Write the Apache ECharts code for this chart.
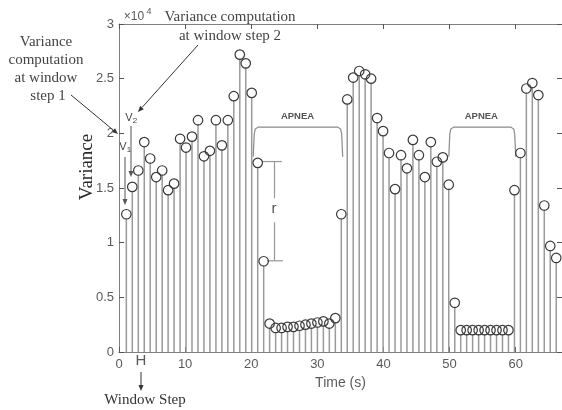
<!DOCTYPE html>
<html>
<head>
<meta charset="utf-8">
<script src="https://cdn.jsdelivr.net/npm/echarts@6/dist/echarts.min.js"></script>
<style>
html,body{margin:0;padding:0;background:#fff}
#container{width:562px;height:410px}
</style>
</head>
<body>
<div id="container"></div>
<script>
// time of each window step (s)
var timeS = [1.11, 2.01, 2.92, 3.82, 4.72, 5.63, 6.53, 7.43, 8.33, 9.24,
    10.14, 11.04, 11.95, 12.85, 13.75, 14.66, 15.56, 16.46, 17.36, 18.27,
    19.17, 20.07, 20.98, 21.88, 22.78, 23.69, 24.59, 25.49, 26.39, 27.30,
    28.20, 29.10, 30.01, 30.91, 31.81, 32.72, 33.62, 34.52, 35.42, 36.33,
    37.23, 38.13, 39.04, 39.94, 40.84, 41.75, 42.65, 43.55, 44.45, 45.36,
    46.26, 47.16, 48.07, 48.97, 49.87, 50.78, 51.68, 52.58, 53.48, 54.39,
    55.29, 56.19, 57.10, 58.00, 58.90, 59.81, 60.71, 61.61, 62.51, 63.42,
    64.32, 65.22, 66.13];
// variance (x10^4)
var variance = [1.26, 1.51, 1.66, 1.92, 1.77, 1.60, 1.66, 1.48, 1.54, 1.95,
    1.87, 1.97, 2.12, 1.79, 1.84, 2.12, 1.89, 2.12, 2.34, 2.72,
    2.64, 2.37, 1.73, 0.83, 0.26, 0.22, 0.22, 0.23, 0.23, 0.24,
    0.25, 0.26, 0.27, 0.28, 0.26, 0.31, 1.26, 2.31, 2.51, 2.57,
    2.54, 2.50, 2.14, 2.02, 1.82, 1.49, 1.80, 1.68, 1.94, 1.80,
    1.60, 1.92, 1.74, 1.78, 1.53, 0.45, 0.20, 0.20, 0.20, 0.20,
    0.20, 0.20, 0.20, 0.20, 0.20, 1.48, 1.82, 2.41, 2.46, 2.35,
    1.34, 0.97, 0.86];
var xTickLabels = ['0', '10', '20', '30', '40', '50', '60'];
var yTickLabels = ['0', '0.5', '1', '1.5', '2', '2.5', '3'];

var stems = [];
var points = [];
for (var i = 0; i < timeS.length; i++) {
    stems.push([timeS[i], variance[i]]);
    points.push([timeS[i], variance[i]]);
}

var sans = "'Liberation Sans', Arial, sans-serif";
var serif = "'Liberation Serif', 'Times New Roman', serif";
var axisGray = '#808080';
var labelGray = '#5a5a5a';
var tickStyle = { show: true, inside: true, length: 5, lineStyle: { color: '#555', width: 1 } };

var dom = document.getElementById("container");
var myChart = echarts.init(dom);
var option = {
    animation: false,
    grid: { left: 119, right: -3, top: 24, bottom: 58, containLabel: false },
    xAxis: [{
        type: 'value', min: 0, max: 67, interval: 10,
        axisLine: { show: true, onZero: false, lineStyle: { color: axisGray } },
        axisTick: tickStyle,
        splitLine: { show: false },
        axisLabel: {
            inside: false, color: labelGray, fontFamily: sans, fontSize: 13, margin: 6, showMaxLabel: false,
            formatter: function (v) { return xTickLabels.indexOf(String(v)) >= 0 ? String(v) : ''; }
        },
        name: 'Time (s)', nameLocation: 'middle', nameGap: 22,
        nameTextStyle: { color: labelGray, fontFamily: sans, fontSize: 14 }
    }, {
        type: 'value', position: 'top', min: 0, max: 67, interval: 10,
        axisLine: { show: true, onZero: false, lineStyle: { color: axisGray } },
        axisTick: tickStyle,
        axisLabel: { show: false }, splitLine: { show: false }
    }],
    yAxis: [{
        type: 'value', min: 0, max: 3, interval: 0.5,
        axisLine: { show: true, onZero: false, lineStyle: { color: axisGray } },
        axisTick: tickStyle,
        splitLine: { show: false },
        axisLabel: {
            inside: false, color: labelGray, fontFamily: sans, fontSize: 13, margin: 5,
            formatter: function (v) { return yTickLabels[Math.round(v / 0.5)]; }
        }
    }, {
        type: 'value', position: 'right', min: 0, max: 3, interval: 0.5,
        axisLine: { show: true, onZero: false, lineStyle: { color: axisGray } },
        axisTick: tickStyle,
        axisLabel: { show: false }, splitLine: { show: false }
    }],
    series: [{
        type: 'custom',
        data: stems,
        renderItem: function (params, api) {
            var p0 = api.coord([api.value(0), 0]);
            var p1 = api.coord([api.value(0), api.value(1)]);
            return {
                type: 'line',
                shape: { x1: p0[0], y1: p0[1], x2: p1[0], y2: p1[1] + 4 },
                style: { stroke: '#9a9a9a', lineWidth: 1.5 }
            };
        },
        z: 1
    }, {
        type: 'scatter',
        data: points,
        symbol: 'circle',
        symbolSize: 9.5,
        itemStyle: { color: 'rgba(255,255,255,0)', borderColor: '#3a3a3a', borderWidth: 1.2, opacity: 1 },
        z: 2
    }]
};
myChart.setOption(option, true);

function arrow(x1, y1, x2, y2, color) {
    var a = Math.atan2(y2 - y1, x2 - x1);
    var L = 6, W = 2.5;
    var bx = x2 - L * Math.cos(a), by = y2 - L * Math.sin(a);
    var px = -Math.sin(a) * W, py = Math.cos(a) * W;
    return [{
        type: 'line', shape: { x1: x1, y1: y1, x2: bx, y2: by },
        style: { stroke: color, lineWidth: 1 }
    }, {
        type: 'polygon', shape: { points: [[x2, y2], [bx + px, by + py], [bx - px, by - py]] },
        style: { fill: color }
    }];
}
function text(str, x, y, font, color, extra) {
    var t = {
        type: 'text', x: x, y: y,
        style: { text: str, font: font, fill: color, align: 'center', verticalAlign: 'middle' }
    };
    if (extra) { for (var k in extra) t[k] = extra[k]; }
    return t;
}
function p(t, v) {
    return myChart.convertToPixel({ seriesIndex: 1 }, [t, v]);
}
function bracket(t1, t2, vTop, vBot) {
    var a = p(t1, vBot), b = p(t1, vTop), c = p(t2, vTop), d = p(t2, vBot);
    return {
        type: 'polyline',
        shape: { points: [a, [b[0] + 1, b[1] + 7], [b[0] + 2, b[1] + 2], [b[0] + 5, b[1]],
            [c[0] - 5, c[1]], [c[0] - 2, c[1] + 2], [c[0] - 1, c[1] + 7], d] },
        style: { stroke: '#8a8a8a', lineWidth: 1.2, fill: null }
    };
}

var g = [];
// exponent
g.push(text('\u00d710', 134, 17, '12px ' + sans, labelGray));
g.push(text('4', 149, 12, '9px ' + sans, labelGray));
// y axis name
g.push(text('Variance', 87, 167, '19px ' + serif, '#2a2a2a', { rotation: Math.PI / 2 }));
// top annotation
g.push(text('Variance computation', 230, 17, '15px ' + serif, '#444'));
g.push(text('at window step 2', 230, 36, '15px ' + serif, '#444'));
g = g.concat(arrow(198, 45, 138, 112, '#333'));
// left annotation
g.push(text('Variance', 46, 42, '15px ' + serif, '#444'));
g.push(text('computation', 46, 60, '15px ' + serif, '#444'));
g.push(text('at window', 46, 78, '15px ' + serif, '#444'));
g.push(text('step 1', 48, 96, '15px ' + serif, '#444'));
g = g.concat(arrow(71, 95, 118, 134, '#333'));
// V1 / V2
g.push(text('V', 129, 118, '11px ' + sans, '#444'));
g.push(text('2', 135, 121, '8px ' + sans, '#444'));
g = g.concat(arrow(131, 126, 131, 177, '#555'));
g.push(text('V', 123, 147, '11px ' + sans, '#444'));
g.push(text('1', 129, 150, '8px ' + sans, '#444'));
g = g.concat(arrow(125, 157, 125, 205, '#555'));
// H and window step
g.push(text('H', 141, 361, '15px ' + sans, labelGray));
g = g.concat(arrow(141, 372, 141, 391, '#333'));
g.push(text('Window Step', 145, 400, '15px ' + serif, '#333'));
// APNEA brackets
g.push(bracket(20.3, 33.83, 2.057, 1.785));
g.push(bracket(49.88, 60.0, 2.057, 1.785));
var l1 = p(27.0, 2.154), l2 = p(54.8, 2.154);
g.push(text('APNEA', l1[0], l1[1], '600 9.5px ' + sans, '#555'));
g.push(text('APNEA', l2[0], l2[1], '600 9.5px ' + sans, '#555'));
// r bracket
var rTopA = p(21.6, 1.742), rTopB = p(24.64, 1.742);
var rBotA = p(22.38, 0.834), rBotB = p(24.79, 0.834);
var rx = p(23.52, 1.742)[0];
var rGapTop = p(23.52, 1.406)[1], rGapBot = p(23.52, 1.187)[1];
var rStyle = { stroke: '#999', lineWidth: 1.2 };
g.push({ type: 'line', shape: { x1: rTopA[0], y1: rTopA[1], x2: rTopB[0], y2: rTopB[1] }, style: rStyle });
g.push({ type: 'line', shape: { x1: rBotA[0], y1: rBotA[1], x2: rBotB[0], y2: rBotB[1] }, style: rStyle });
g.push({ type: 'line', shape: { x1: rx, y1: rTopA[1], x2: rx, y2: rGapTop }, style: rStyle });
g.push({ type: 'line', shape: { x1: rx, y1: rGapBot, x2: rx, y2: rBotA[1] }, style: rStyle });
var rl = p(23.45, 1.306);
g.push(text('r', rl[0], rl[1], '15px ' + sans, '#555'));

myChart.setOption({ graphic: g });
</script>
</body>
</html>
